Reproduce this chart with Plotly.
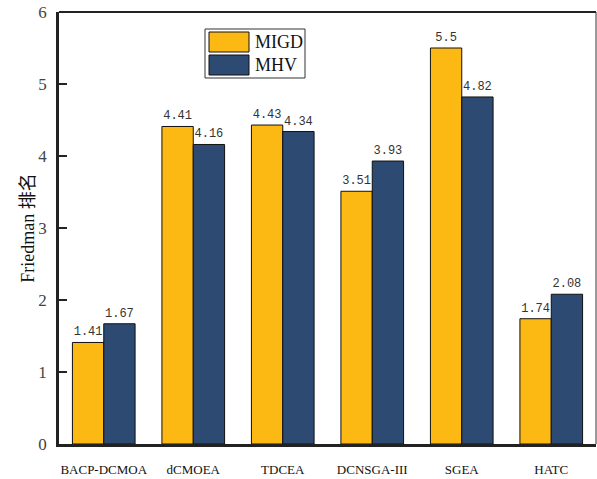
import plotly.graph_objects as go

algorithms = ["BACP-DCMOA", "dCMOEA", "TDCEA", "DCNSGA-III", "SGEA", "HATC"]
migd_rank = [1.41, 4.41, 4.43, 3.51, 5.5, 1.74]
mhv_rank = [1.67, 4.16, 4.34, 3.93, 4.82, 2.08]
y_ticks = [0, 1, 2, 3, 4, 5, 6]

YELLOW = "#FCB914"
BLUE = "#2C4A72"
SERIF = "Liberation Serif"
LABEL_FONT = dict(family="Liberation Mono", size=12, color="#333333")

fig = go.Figure()
for name, vals, color in [("MIGD", migd_rank, YELLOW), ("MHV", mhv_rank, BLUE)]:
    fig.add_trace(go.Bar(
        name=name, x=algorithms, y=vals,
        marker=dict(color=color, line=dict(color="#111111", width=1)),
        text=[f"{v:g}" for v in vals], textposition="outside",
        textfont=LABEL_FONT, cliponaxis=False,
    ))

W, H = 597, 479
ml, mr, mt, mb = 59, 1, 12, 35
pw, ph = W - ml - mr, H - mt - mb


def px(x):
    return (x - ml) / pw


def py(y):
    return (H - mb - y) / ph


shapes = [
    # frame: top and right edges
    dict(type="line", xref="paper", yref="paper", x0=0, x1=1, y0=1, y1=1,
         line=dict(color="#222222", width=2)),
    dict(type="line", xref="paper", yref="paper", x0=1, x1=1, y0=0, y1=1,
         line=dict(color="#333333", width=1)),
    # legend box and swatches
    dict(type="rect", xref="paper", yref="paper", x0=px(205), x1=px(305),
         y0=py(78), y1=py(29), line=dict(color="#333333", width=1), fillcolor="white"),
    dict(type="rect", xref="paper", yref="paper", x0=px(209), x1=px(249),
         y0=py(52), y1=py(32), line=dict(color="#111111", width=1), fillcolor=YELLOW),
    dict(type="rect", xref="paper", yref="paper", x0=px(209), x1=px(249),
         y0=py(75), y1=py(55), line=dict(color="#111111", width=1), fillcolor=BLUE),
]
annotations = [
    dict(xref="paper", yref="paper", x=px(253), y=py(42), text="MIGD", showarrow=False,
         xanchor="left", yanchor="middle", font=dict(family=SERIF, size=18, color="#111111")),
    dict(xref="paper", yref="paper", x=px(253), y=py(65), text="MHV", showarrow=False,
         xanchor="left", yanchor="middle", font=dict(family=SERIF, size=18, color="#111111")),
]

fig.update_layout(
    width=W, height=H,
    margin=dict(l=ml, r=mr, t=mt, b=mb),
    paper_bgcolor="white", plot_bgcolor="white",
    barmode="group", bargap=0.3, bargroupgap=0,
    showlegend=False,
    shapes=shapes, annotations=annotations,
    font=dict(family=SERIF, color="#222222"),
)
fig.update_xaxes(
    showline=True, linecolor="#222222", linewidth=2.5,
    ticks="", showgrid=False, ticklabelstandoff=12,
    tickfont=dict(family=SERIF, size=13, color="#111111"),
)
fig.update_yaxes(
    range=[0, 6], tickvals=y_ticks, showgrid=False, zeroline=False,
    showline=True, linecolor="#222222", linewidth=2.5,
    ticks="inside", ticklen=8, tickwidth=2, tickcolor="#222222",
    ticklabelstandoff=6,
    tickfont=dict(family=SERIF, size=17, color="#444444"),
    title=dict(text="Friedman 排名", standoff=0,
               font=dict(family="Liberation Serif, Noto Sans CJK SC", size=18, color="#111111")),
)

fig.write_html("out.html")
